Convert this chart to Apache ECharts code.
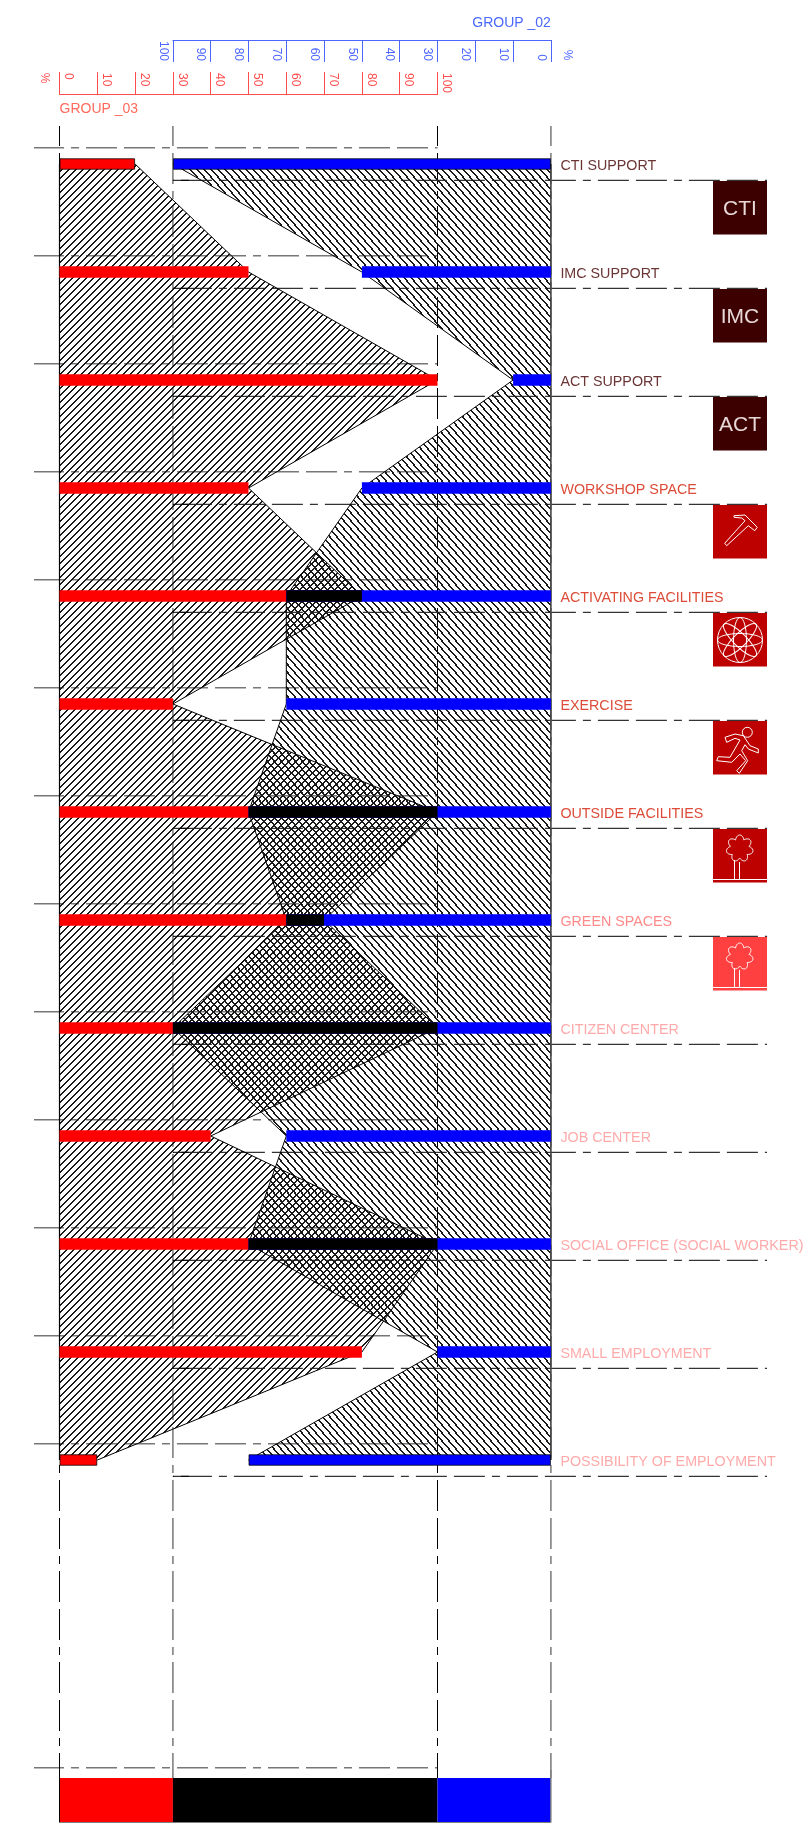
<!DOCTYPE html>
<html>
<head>
<meta charset="utf-8">
<style>
  html, body { margin: 0; padding: 0; background: #fff; }
  #main { width: 809px; height: 1827px; }
</style>
</head>
<body>
<div id="main"></div>
<script src="https://cdn.jsdelivr.net/npm/echarts@6/dist/echarts.min.js"></script>
<script>
// chart data
const categories = [
  "CTI SUPPORT", "IMC SUPPORT", "ACT SUPPORT", "WORKSHOP SPACE",
  "ACTIVATING FACILITIES", "EXERCISE", "OUTSIDE FACILITIES", "GREEN SPACES",
  "CITIZEN CENTER", "JOB CENTER", "SOCIAL OFFICE (SOCIAL WORKER)",
  "SMALL EMPLOYMENT", "POSSIBILITY OF EMPLOYMENT",
];
const group03 = [20, 50, 100, 50, 80, 30, 100, 70, 100, 40, 100, 80, 10];
const group02 = [100, 50, 10, 50, 70, 70, 80, 70, 100, 70, 80, 30, 80];
const ticks = [0, 10, 20, 30, 40, 50, 60, 70, 80, 90, 100];
const labelColors = [
  "#6b3535", "#6b3535", "#6b3535", "#dc4c38", "#dc4c38", "#dc4c38", "#dc4c38",
  "#ff8a8a", "#ffaaaa", "#ffaaaa", "#ffaaaa", "#ffaaaa", "#ffaaaa",
];
const legendSpans = [30, 70, 30];
const legendColors = ["#ff0000", "#000000", "#0000ff"];

// layout
const left = 59.5;
const axisWidth = 378;
const shift = 30; // blue axis 100 sits on red axis 30
const gridTop = 110;
const rowHeight = 108;
const barHeight = 11.5;
const rowY = (i) => gridTop + rowHeight * (i + 0.5);
const xRed = (v) => left + (axisWidth * v) / 100;
const plotRight = xRed(100 + shift);
const RED_AXIS = "#ff4d4d";
const BLUE_AXIS = "#4d66ff";
const FONT = '"Liberation Sans", Arial, sans-serif';

// black part of a bar, where red and blue overlap
const overlapStart = group03.map((v, i) => {
  const start = 100 - group02[i] + shift;
  return v > start ? start : 0;
});
const overlapSize = group03.map((v, i) => {
  const start = 100 - group02[i] + shift;
  return v > start ? v - start : 0;
});

// hatch tile, dir 1 = "/" and -1 = "\", stepped pixel by pixel so it stays crisp
function hatch(dir, w, h) {
  const c = document.createElement("canvas");
  c.width = w;
  c.height = h;
  const ctx = c.getContext("2d");
  ctx.fillStyle = "#1a1a1a";
  for (let y = 0; y < h; y++) {
    const step = Math.floor((y * w) / h);
    const x = dir > 0 ? w - 1 - step : step;
    ctx.fillRect(x, y, 2, 1);
    ctx.fillRect(x - w, y, 2, 1);
  }
  return { image: c, repeat: "repeat" };
}

// first and last bars carry a thin outline
function barData(values) {
  return values.map((v, i) =>
    i === 0 || i === values.length - 1
      ? { value: v, itemStyle: { borderColor: "rgba(0,0,0,0.75)", borderWidth: 1 } }
      : v
  );
}

function areaLine(name, axisIndex, values, pattern) {
  return {
    name: name,
    type: "line",
    z: 1,
    xAxisIndex: axisIndex,
    yAxisIndex: axisIndex,
    data: values,
    showSymbol: false,
    symbol: "none",
    clip: false,
    lineStyle: { color: "#000", width: 1 },
    areaStyle: { color: pattern, opacity: 1 },
  };
}

function edgeLine(axisIndex, color, width) {
  return {
    type: "line",
    z: 1,
    xAxisIndex: axisIndex,
    yAxisIndex: axisIndex,
    data: categories.map(() => 0),
    showSymbol: false,
    symbol: "none",
    clip: false,
    lineStyle: { color: color, width: width },
  };
}

function barSeries(name, axisIndex, values, color) {
  return {
    name: name,
    type: "bar",
    z: 3,
    xAxisIndex: axisIndex,
    yAxisIndex: axisIndex,
    data: barData(values),
    barWidth: barHeight,
    barGap: "-100%",
    itemStyle: { color: color },
  };
}

function valueAxis(gridIndex, color, extra) {
  return Object.assign(
    {
      type: "value",
      gridIndex: gridIndex,
      position: "top",
      min: ticks[0],
      max: ticks[ticks.length - 1],
      interval: ticks[1] - ticks[0],
      splitLine: { show: false },
      axisLine: { show: true, onZero: false, lineStyle: { color: color, width: 1 } },
    },
    extra
  );
}

// guide lines
const DASH = [31, 7, 31, 7, 8, 7];
function guide(x1, y1, x2, y2, color, width, offset) {
  return {
    type: "line",
    z: 0,
    silent: true,
    shape: { x1: x1, y1: y1, x2: x2, y2: y2 },
    style: { stroke: color, lineWidth: width, lineDash: DASH, lineDashOffset: offset },
  };
}
function solid(x1, y1, x2, y2, color, width) {
  return {
    type: "line",
    z: 5,
    silent: true,
    shape: { x1: x1, y1: y1, x2: x2, y2: y2 },
    style: { stroke: color, lineWidth: width },
  };
}

function label(text, x, y, color, size, align, rotation) {
  return {
    type: "text",
    x: x,
    y: y,
    rotation: rotation || 0,
    style: {
      text: text,
      fill: color,
      font: size + "px " + FONT,
      textAlign: align,
      textVerticalAlign: "middle",
    },
  };
}

// icons, drawn in a 54 x 53 box
const ICON_LINE = { fill: "none", stroke: "#fff", lineWidth: 1 };
function iconPoly(points) {
  return { type: "polygon", shape: { points: points }, style: ICON_LINE };
}
function iconLine(x1, y1, x2, y2) {
  return { type: "line", shape: { x1: x1, y1: y1, x2: x2, y2: y2 }, style: ICON_LINE };
}
function treeParts() {
  const outline = [];
  for (let k = 0; k < 140; k++) {
    const a = (2 * Math.PI * k) / 140;
    const r = 9.5 + 4 * Math.abs(Math.sin(3.5 * a));
    outline.push([26.7 + r * Math.cos(a + Math.PI / 2), 19.5 + r * Math.sin(a + Math.PI / 2)]);
  }
  return [
    iconPoly(outline),
    iconLine(21.5, 31, 21.5, 50),
    iconLine(26.5, 33, 26.5, 50),
    iconLine(0, 50.5, 54, 50.5),
  ];
}
function atomParts() {
  const parts = [{ type: "circle", shape: { cx: 27, cy: 27, r: 22.5 }, style: ICON_LINE }];
  [0, 1, 2, 3].forEach((k) => {
    parts.push({
      type: "ellipse",
      shape: { cx: 27, cy: 27, rx: 22.5, ry: 6.5 },
      originX: 27,
      originY: 27,
      rotation: (k * Math.PI) / 4,
      style: ICON_LINE,
    });
  });
  return parts;
}
const hammer = [[21, 10.7], [32, 10], [44.3, 22.3], [41.7, 25.7], [35.3, 20.7], [13.7, 40.7], [11.7, 38.3], [32, 15.7], [28.7, 13], [21, 12.3]];
const runner = [[22, 13], [12, 16.3], [13.7, 21.3], [22, 17.3], [27, 19], [17, 36.3], [5.3, 35.7], [3.7, 39.7], [18.7, 41.3], [27, 33], [32.7, 39.7], [23.7, 49.7], [26.3, 52.3], [34.7, 39.7], [28.7, 29.7], [32, 23.7], [35.3, 28], [45.3, 32], [45.3, 28], [37, 24.7], [30.3, 14.7]];
const iconBoxes = [
  { color: "#3c0000", text: "CTI" },
  { color: "#3c0000", text: "IMC" },
  { color: "#3c0000", text: "ACT" },
  { color: "#bd0000", parts: [iconPoly(hammer)] },
  { color: "#bd0000", parts: atomParts() },
  { color: "#bd0000", parts: [
    { type: "circle", shape: { cx: 34.3, cy: 11.3, r: 5 }, style: ICON_LINE },
    iconPoly(runner),
  ] },
  { color: "#bd0000", parts: treeParts() },
  { color: "#ff4040", parts: treeParts() },
];

const iconElements = iconBoxes.map((icon, i) => {
  const children = [
    { type: "rect", shape: { x: 0, y: 0, width: 54, height: 53.4 }, style: { fill: icon.color } },
  ];
  if (icon.text) {
    children.push(label(icon.text, 27, 28, "#e8d8d8", 21, "center"));
  }
  (icon.parts || []).forEach((p) => children.push(p));
  return { type: "group", x: 713, y: rowY(i) + 17, children: children };
});

const guideElements = [];
categories.forEach((c, i) => {
  guideElements.push(guide(34, rowY(i) - 16.3, xRed(100), rowY(i) - 16.3, "#777", 1.4, 39));
  guideElements.push(guide(xRed(30), rowY(i) + 16.3, 767, rowY(i) + 16.3, "#000", 1, 30));
  guideElements.push(solid(xRed(30), rowY(i) + 16.3, xRed(30) + 16, rowY(i) + 16.3, "#000", 1));
});
guideElements.push(guide(34, 1767.7, xRed(100), 1767.7, "#777", 1.4, 39));
[
  [xRed(0), "#000", 1],
  [xRed(30), "#808080", 1.6],
  [xRed(100), "#000", 1],
  [plotRight, "#808080", 1.6],
].forEach((g) => {
  guideElements.push(guide(g[0], 126, g[0], 1778, g[1], g[2], 11));
});
// outline of the legend blocks
guideElements.push(solid(xRed(0), 1770, xRed(0), 1822.5, "#000", 1));
guideElements.push(solid(plotRight, 1770, plotRight, 1822.5, "#808080", 1.4));
guideElements.push(solid(xRed(0), 1822.5, plotRight, 1822.5, "#808080", 1));

var myChart = echarts.init(document.getElementById("main"), null, { renderer: "canvas" });
var option = {
  animation: false,
  backgroundColor: "#fff",
  grid: [
    { left: left, width: axisWidth, top: gridTop, height: rowHeight * categories.length },
    { left: xRed(shift), width: axisWidth, top: gridTop, height: rowHeight * categories.length },
    { left: left, width: plotRight - left, top: 1778, height: 44 },
  ],
  xAxis: [
    valueAxis(0, RED_AXIS, {
      offset: 16,
      axisTick: { show: true, length: 22, lineStyle: { color: RED_AXIS, width: 1 } },
      axisLabel: {
        rotate: 90,
        margin: 21,
        color: RED_AXIS,
        fontSize: 12,
        fontFamily: FONT,
        align: "left",
        verticalAlign: "bottom",
        padding: [0, 0, 3, 0],
      },
    }),
    valueAxis(1, BLUE_AXIS, {
      inverse: true,
      offset: 70,
      axisTick: { show: true, inside: true, length: 22, lineStyle: { color: BLUE_AXIS, width: 1 } },
      axisLabel: {
        inside: true,
        rotate: 90,
        margin: 21,
        color: BLUE_AXIS,
        fontSize: 12,
        fontFamily: FONT,
        align: "right",
        verticalAlign: "top",
        padding: [4, 0, 0, 0],
      },
    }),
    { type: "value", gridIndex: 2, show: false, min: 0, max: 130 },
  ],
  yAxis: [
    { type: "category", gridIndex: 0, inverse: true, show: false, data: categories },
    {
      type: "category",
      gridIndex: 1,
      inverse: true,
      position: "right",
      data: categories,
      axisLine: { show: false },
      axisTick: { show: false },
      axisLabel: {
        interval: 0,
        margin: 9.5,
        fontSize: 14.3,
        fontFamily: FONT,
        verticalAlign: "top",
        lineHeight: 4,
        color: (value, index) => labelColors[index],
      },
    },
    { type: "category", gridIndex: 2, show: false, data: ["legend"] },
  ],
  series: [
    areaLine("GROUP _03 area", 0, group03, hatch(1, 7, 7)),
    areaLine("GROUP _02 area", 1, group02, hatch(-1, 7, 8)),
    edgeLine(0, "#000", 1.2),
    edgeLine(1, "#444", 1.6),
    barSeries("GROUP _03", 0, group03, "#ff0000"),
    barSeries("GROUP _02", 1, group02, "#0000ff"),
    {
      name: "overlap start",
      type: "bar",
      z: 4,
      xAxisIndex: 0,
      yAxisIndex: 0,
      stack: "overlap",
      barWidth: barHeight,
      barGap: "-100%",
      data: overlapStart,
      itemStyle: { color: "transparent" },
    },
    {
      name: "overlap",
      type: "bar",
      z: 4,
      xAxisIndex: 0,
      yAxisIndex: 0,
      stack: "overlap",
      barWidth: barHeight,
      barGap: "-100%",
      data: overlapSize,
      itemStyle: { color: "#000" },
    },
    ...legendSpans.map((v, i) => ({
      type: "bar",
      xAxisIndex: 2,
      yAxisIndex: 2,
      stack: "legend",
      barWidth: "100%",
      data: [v],
      itemStyle: { color: legendColors[i] },
    })),
  ],
  graphic: {
    elements: [
      ...iconElements,
      ...guideElements,
      label("GROUP _02", plotRight, 23, "#4a68ff", 14, "right"),
      label("GROUP _03", left, 109, "#ff6a5c", 14, "left"),
      label("%", 44, 78, RED_AXIS, 12, "center", -Math.PI / 2),
      label("%", 567, 55, BLUE_AXIS, 12, "center", -Math.PI / 2),
    ],
  },
};

option && myChart.setOption(option);
</script>
</body>
</html>
